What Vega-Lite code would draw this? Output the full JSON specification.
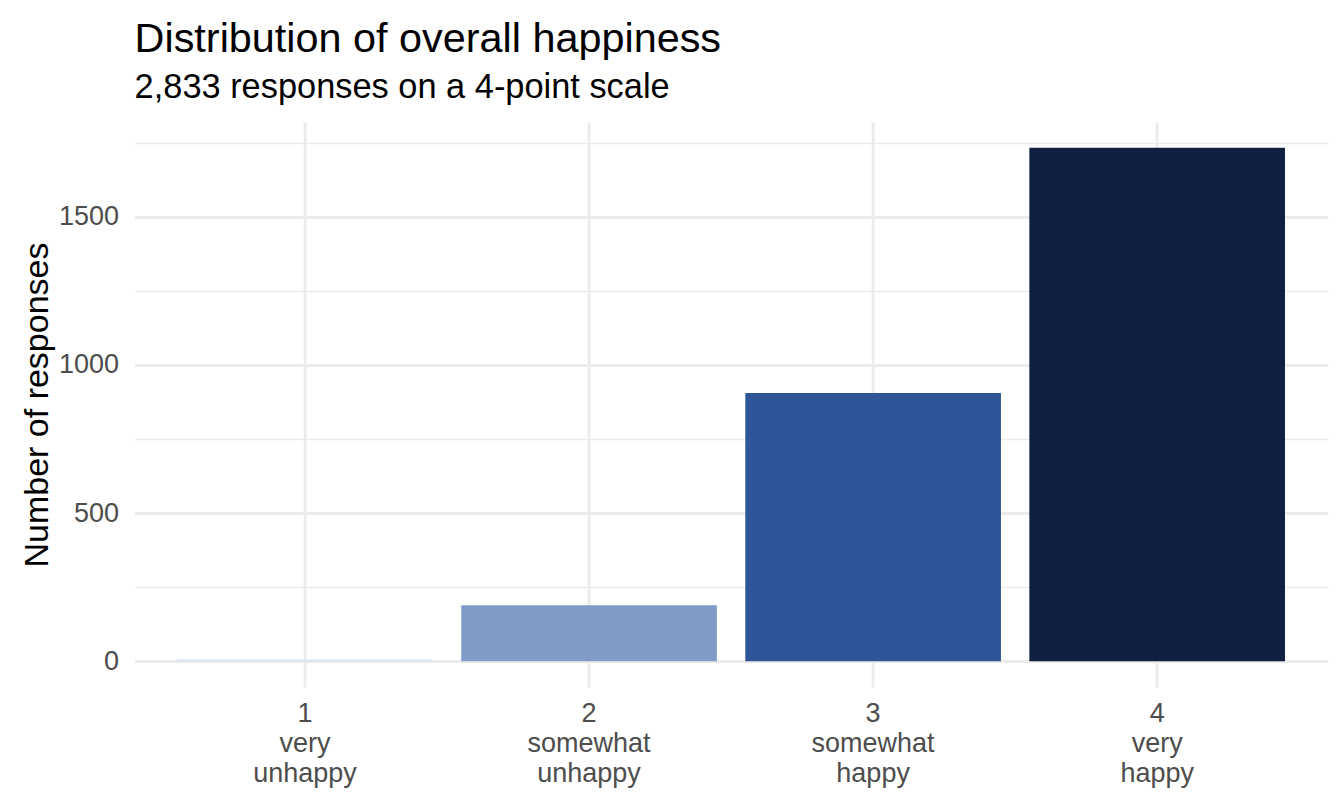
{
  "$schema": "https://vega.github.io/schema/vega-lite/v6.json",
  "description": "Distribution of overall happiness, 4-point scale.",
  "autosize": "none",
  "width": 1193,
  "height": 565,
  "padding": {"left": 134.6, "top": 122, "right": 16, "bottom": 119},
  "background": "white",
  "title": {
    "text": "Distribution of overall happiness",
    "subtitle": "2,833 responses on a 4-point scale",
    "anchor": "start",
    "frame": "group",
    "font": "Liberation Sans",
    "fontSize": 41.4,
    "fontWeight": "normal",
    "color": "#000000",
    "subtitleFont": "Liberation Sans",
    "subtitleFontSize": 34.4,
    "subtitleColor": "#000000",
    "subtitlePadding": 10,
    "offset": 18
  },
  "data": {
    "values": [
      {"level": "1", "label": "1|very|unhappy", "count": 6},
      {"level": "2", "label": "2|somewhat|unhappy", "count": 189},
      {"level": "3", "label": "3|somewhat|happy", "count": 905},
      {"level": "4", "label": "4|very|happy", "count": 1733}
    ]
  },
  "layer": [
    {
      "mark": {"type": "bar", "opacity": 0},
      "encoding": {
        "x": {
          "field": "label",
          "type": "nominal",
          "sort": null,
          "scale": {"paddingInner": 0.1, "paddingOuter": 0.15},
          "axis": {
            "title": null,
            "labelExpr": "split(datum.value, '|')",
            "labelAngle": 0,
            "labelFont": "Liberation Sans",
            "labelFontSize": 27,
            "labelColor": "#4d4d4d",
            "labelLineHeight": 30,
            "labelPadding": 14,
            "labelBaseline": "top",
            "ticks": false,
            "domain": false,
            "grid": true,
            "bandPosition": 0.5,
            "gridColor": "#ebebeb",
            "gridWidth": 2.8
          }
        },
        "y": {
          "field": "count",
          "type": "quantitative",
          "scale": {"domain": [-86.65, 1819.65], "nice": false, "zero": false},
          "axis": {
            "orient": "right",
            "values": [250, 750, 1250, 1750],
            "labels": false,
            "ticks": false,
            "domain": false,
            "title": null,
            "grid": true,
            "gridColor": "#ebebeb",
            "gridWidth": 1.4
          }
        },
        "y2": {"datum": 0}
      }
    },
    {
      "mark": {"type": "bar"},
      "encoding": {
        "x": {
          "field": "label",
          "type": "nominal",
          "sort": null,
          "scale": {"paddingInner": 0.1, "paddingOuter": 0.15},
          "axis": {
            "title": null,
            "labelExpr": "split(datum.value, '|')",
            "labelAngle": 0,
            "labelFont": "Liberation Sans",
            "labelFontSize": 27,
            "labelColor": "#4d4d4d",
            "labelLineHeight": 30,
            "labelPadding": 14,
            "labelBaseline": "top",
            "ticks": false,
            "domain": false,
            "grid": true,
            "bandPosition": 0.5,
            "gridColor": "#ebebeb",
            "gridWidth": 2.8
          }
        },
        "y": {
          "field": "count",
          "type": "quantitative",
          "axis": {
            "values": [0, 500, 1000, 1500],
            "format": "d",
            "title": "Number of responses",
            "titleFont": "Liberation Sans",
            "titleFontSize": 34,
            "titleFontWeight": "normal",
            "titleColor": "#000000",
            "titlePadding": 4,
            "labelFont": "Liberation Sans",
            "labelFontSize": 27,
            "labelColor": "#4d4d4d",
            "labelPadding": 16,
            "ticks": false,
            "domain": false,
            "grid": true,
            "gridColor": "#ebebeb",
            "gridWidth": 2.8
          }
        },
        "y2": {"datum": 0},
        "fill": {
          "field": "level",
          "type": "nominal",
          "scale": {
            "domain": ["1", "2", "3", "4"],
            "range": ["#d9e2f2", "#7f9bc6", "#2e5597", "#111f42"]
          },
          "legend": null
        }
      }
    }
  ],
  "resolve": {"axis": {"y": "independent"}},
  "config": {
    "view": {"stroke": null},
    "font": "Liberation Sans"
  }
}
